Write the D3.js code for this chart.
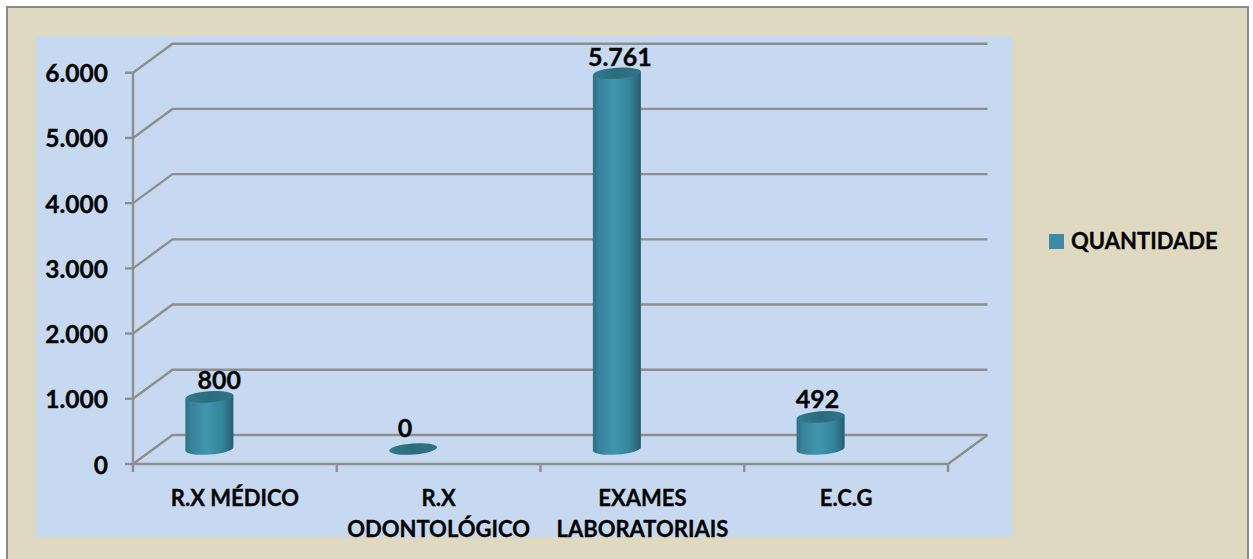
<!DOCTYPE html>
<html>
<head>
<meta charset="utf-8">
<script src="https://cdnjs.cloudflare.com/ajax/libs/d3/7.8.5/d3.min.js"></script>
<style>
    html, body { margin: 0; padding: 0; background: #fff; overflow: hidden; }
    text { font-family: Lato, "Open Sans", sans-serif; font-weight: 700; fill: #050505; stroke: #050505; stroke-width: 0.35px; }
</style>
</head>
<body>
<div id="chart"></div>
<script>
const categories = ["R.X MÉDICO", "R.X ODONTOLÓGICO", "EXAMES LABORATORIAIS", "E.C.G"];
const categoryLines = [["R.X MÉDICO"], ["R.X", "ODONTOLÓGICO"], ["EXAMES", "LABORATORIAIS"], ["E.C.G"]];
const quantidade = [800, 0, 5761, 492];
const valueLabels = ["800", "0", "5.761", "492"];
const yTicks = [0, 1000, 2000, 3000, 4000, 5000, 6000];
const yTickLabels = ["0", "1.000", "2.000", "3.000", "4.000", "5.000", "6.000"];
const seriesName = "QUANTIDADE";

const width = 1253, height = 559;
const depthX = 39.5, depthY = 29;
const barRx = 24, barRy = 5.6, tilt = -4;
const gridColor = "#8e8e8e";

const svg = d3.select("#chart")
    .append("svg")
    .attr("width", width)
    .attr("height", height)
    .style("display", "block");

const defs = svg.append("defs");
const sideGrad = defs.append("linearGradient").attr("id", "side");
[[0, "#2f6f82"], [0.12, "#36839a"], [0.45, "#4196af"], [0.78, "#348399"], [1, "#275c6f"]].forEach(s => {
    sideGrad.append("stop").attr("offset", s[0]).attr("stop-color", s[1]);
});
const topGrad = defs.append("linearGradient").attr("id", "top");
[[0, "#327a8d"], [0.5, "#2c6b7c"], [1, "#2f7688"]].forEach(s => {
    topGrad.append("stop").attr("offset", s[0]).attr("stop-color", s[1]);
});

// chart frame and plot background
svg.append("rect")
    .attr("x", 7).attr("y", 7)
    .attr("width", 1241).attr("height", 600)
    .attr("fill", "#dfd9c2")
    .attr("stroke", "#8a8a8a")
    .attr("stroke-width", 2);

svg.append("rect")
    .attr("x", 36).attr("y", 36)
    .attr("width", 976).attr("height", 501)
    .attr("fill", "#c6d9f0");

const x = d3.scaleBand().domain(categories).range([133, 948]);
const y = d3.scaleLinear().domain([0, 6000]).range([464, 72.7]);

const [x0, x1] = x.range();

// back wall gridlines with the diagonal to the front axis
const grid = svg.append("g")
    .attr("fill", "none")
    .attr("stroke", gridColor)
    .attr("stroke-width", 2.4);

grid.selectAll("path.grid")
    .data(yTicks)
    .join("path")
    .attr("class", "grid")
    .attr("d", d => `M${x0},${y(d)}L${x0 + depthX},${y(d) - depthY}H${x1 + depthX}`);

// floor
grid.append("path")
    .attr("d", `M${x0},${y(0)}H${x1}L${x1 + depthX},${y(0) - depthY}`);

// front axes
grid.append("path").attr("d", `M${x0},${y(6000)}V${y(0) + 8}`);

grid.selectAll("line.ytick")
    .data(yTicks)
    .join("line")
    .attr("class", "ytick")
    .attr("x1", x0 - 8).attr("x2", x0)
    .attr("y1", d => y(d)).attr("y2", d => y(d));

grid.selectAll("line.xtick")
    .data(categories.slice(1).concat([null]))
    .join("line")
    .attr("class", "xtick")
    .attr("x1", d => d ? x(d) : x1)
    .attr("x2", d => d ? x(d) : x1)
    .attr("y1", y(0)).attr("y2", y(0) + 8);

// y tick labels
svg.selectAll("text.ylabel")
    .data(yTicks)
    .join("text")
    .attr("class", "ylabel")
    .attr("x", 108)
    .attr("y", d => y(d) + 9.5)
    .attr("text-anchor", "end")
    .style("font-size", "24.5px")
    .text((d, i) => yTickLabels[i]);

// cylinders
const barOffset = -25.5;
const floorY = 449;
const cx = name => x(name) + x.bandwidth() / 2 + barOffset;
const sin = Math.sin(tilt * Math.PI / 180) * barRx;

const bars = svg.selectAll("g.bar")
    .data(categories.map((name, i) => ({ name, value: quantidade[i] })))
    .join("g")
    .attr("class", "bar");

const h = v => y(0) - y(v);

bars.filter(d => d.value > 0).append("path")
    .attr("fill", "url(#side)")
    .attr("d", d => {
        const top = floorY - h(d.value);
        return `M${cx(d.name) - barRx},${top - sin}`
            + `L${cx(d.name) - barRx},${floorY - sin}`
            + `A${barRx},${barRy} ${tilt} 0 0 ${cx(d.name) + barRx},${floorY + sin}`
            + `L${cx(d.name) + barRx},${top + sin}Z`;
    });

bars.append("ellipse")
    .attr("fill", "url(#top)")
    .attr("cx", d => cx(d.name))
    .attr("cy", d => floorY - h(d.value))
    .attr("rx", barRx)
    .attr("ry", barRy)
    .attr("transform", d => `rotate(${tilt} ${cx(d.name)} ${floorY - h(d.value)})`);

// value labels
const labelDx = [10, -8, 3, -3];
const labelGap = [2, 6, 2, 3];
svg.selectAll("text.value")
    .data(categories)
    .join("text")
    .attr("class", "value")
    .attr("x", (d, i) => cx(d) + labelDx[i])
    .attr("y", (d, i) => floorY - h(quantidade[i]) - barRy - labelGap[i])
    .attr("text-anchor", "middle")
    .style("font-size", "25px")
    .text((d, i) => valueLabels[i]);

// category labels
svg.selectAll("text.category")
    .data(categories)
    .join("text")
    .attr("class", "category")
    .attr("x", d => x(d) + x.bandwidth() / 2)
    .attr("y", 505.5)
    .attr("text-anchor", "middle")
    .style("font-size", "22px")
    .each(function (d, i) {
        d3.select(this).selectAll("tspan")
            .data(categoryLines[i])
            .join("tspan")
            .attr("x", x(d) + x.bandwidth() / 2)
            .attr("dy", (l, j) => j ? 31 : 0)
            .text(l => l);
    });

// legend
svg.append("rect")
    .attr("x", 1049).attr("y", 234)
    .attr("width", 15).attr("height", 15)
    .attr("fill", "#3b8ba8");

svg.append("text")
    .attr("x", 1071).attr("y", 249)
    .style("font-size", "22px")
    .text(seriesName);
</script>
</body>
</html>
